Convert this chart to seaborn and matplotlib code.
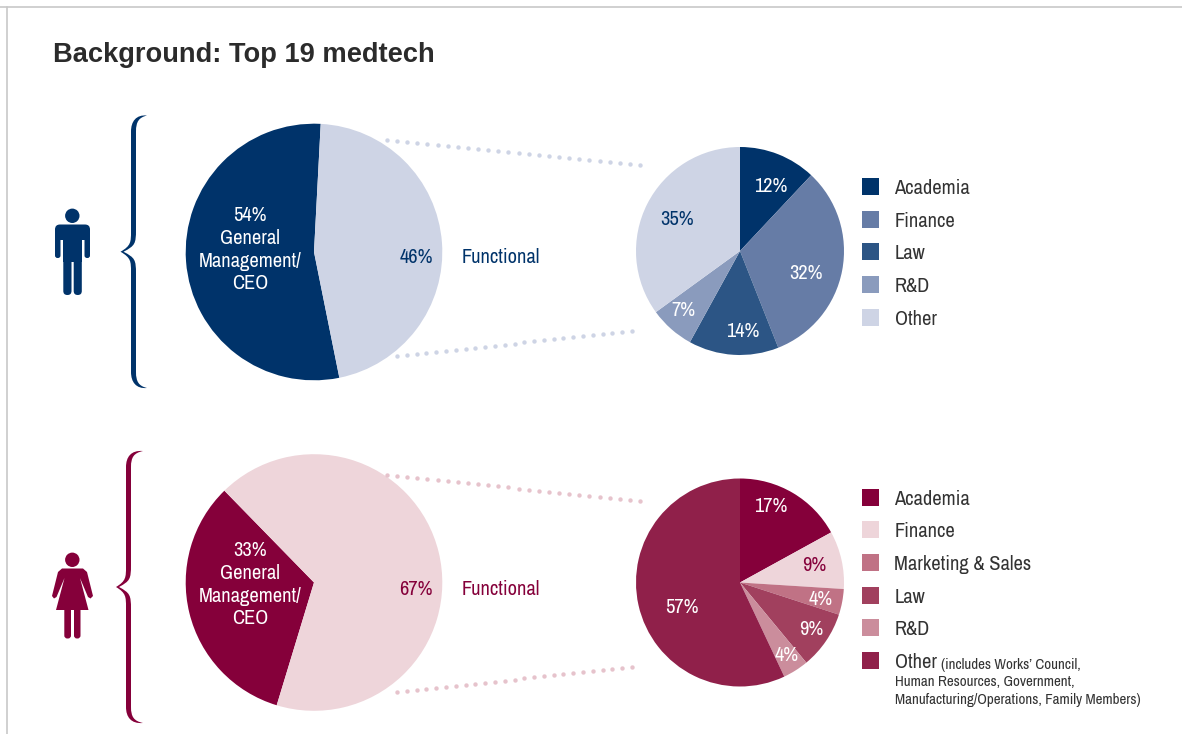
import matplotlib
matplotlib.use("Agg")
import matplotlib.pyplot as plt
from matplotlib.patches import Circle, FancyBboxPatch, PathPatch, Polygon, Rectangle
from matplotlib.path import Path
import numpy as np
import seaborn as sns

W, H = 1182, 734
NAVY = "#00336a"
MAROON = "#85003a"
TEXT = "#333333"

# Overall role split
men_overall = [54, 46]
women_overall = [33, 67]
overall_caption = ["General", "Management/", "CEO"]

# Functional backgrounds
men_categories = ["Academia", "Finance", "Law", "R&D", "Other"]
men_values = [12, 32, 14, 7, 35]
men_colors = ["#00336a", "#667ca6", "#2c5585", "#8a9bbd", "#ced4e5"]
men_label_colors = ["white", "white", "white", "white", NAVY]

women_categories = ["Academia", "Finance", "Marketing & Sales", "Law", "R&D", "Other"]
women_values = [17, 9, 4, 9, 4, 57]
women_colors = ["#85003a", "#eed5da", "#c07285", "#a1405e", "#cb8d9c", "#90204a"]
women_label_colors = ["white", MAROON, "white", "white", "white", "white"]

sns.set_theme(style="white", rc={"figure.dpi": 100, "savefig.dpi": 100})
plt.rcParams["font.family"] = ["Archivo Narrow", "Liberation Sans", "DejaVu Sans"]

fig = plt.figure(figsize=(W / 100, H / 100), facecolor="white")

# Pixel-space layer for annotations, icons and legends
ov = fig.add_axes([0, 0, 1, 1], zorder=3)
ov.set_xlim(0, W)
ov.set_ylim(H, 0)
ov.axis("off")
ov.patch.set_alpha(0)


def draw_pie(cx, cy, r, values, colors, start, ccw):
    ax = fig.add_axes([(cx - r - 2) / W, 1 - (cy + r + 2) / H, (2 * r + 4) / W, (2 * r + 4) / H], zorder=1)
    ax.pie(values, colors=sns.color_palette(colors), startangle=start, counterclock=ccw,
           radius=r, center=(0, 0), wedgeprops={"linewidth": 0})
    ax.set_xlim(-r - 2, r + 2)
    ax.set_ylim(-r - 2, r + 2)
    ax.set_aspect("equal")
    ax.axis("off")


def brace(x, tip_x, top, bottom, end_x, color):
    mid = (top + bottom) / 2
    w = 5
    verts = [
        (end_x, top), (x + 5, top - 1), (x, top + 6), (x, top + 16),
        (x, mid - 20), (x, mid - 10), (x, mid - 6), (tip_x, mid),
        (x, mid + 6), (x, mid + 10), (x, mid + 20),
        (x, bottom - 16), (x, bottom - 6), (x + 5, bottom + 1), (end_x, bottom),
        (x + w + 3, bottom - 2), (x + w, bottom - 6), (x + w, bottom - 16),
        (x + w, mid + 22), (x + w, mid + 8), (x + w - 1, mid + 6), (tip_x + 3, mid),
        (x + w - 1, mid - 6), (x + w, mid - 8), (x + w, mid - 22),
        (x + w, top + 16), (x + w, top + 6), (x + w + 3, top + 2), (end_x, top),
    ]
    codes = [Path.MOVETO, Path.CURVE4, Path.CURVE4, Path.CURVE4,
             Path.LINETO, Path.CURVE4, Path.CURVE4, Path.CURVE4,
             Path.CURVE4, Path.CURVE4, Path.CURVE4,
             Path.LINETO, Path.CURVE4, Path.CURVE4, Path.CURVE4,
             Path.CURVE4, Path.CURVE4, Path.CURVE4,
             Path.LINETO, Path.CURVE4, Path.CURVE4, Path.CURVE4,
             Path.CURVE4, Path.CURVE4, Path.CURVE4,
             Path.LINETO, Path.CURVE4, Path.CURVE4, Path.CURVE4]
    ov.add_patch(PathPatch(Path(verts, codes), fc=color, ec="none"))


def rounded(x0, y0, x1, y1, color, rad=2.5):
    ov.add_patch(FancyBboxPatch((x0 + rad, y0 + rad), x1 - x0 - 2 * rad, y1 - y0 - 2 * rad,
                                boxstyle=f"round,pad={rad},rounding_size={rad}", fc=color, ec="none"))


def male_icon(color):
    ov.add_patch(Circle((72.3, 215.8), 7.2, fc=color, ec="none"))
    rounded(55, 224.5, 90, 240, color, rad=5)
    rounded(55, 228, 60.5, 258, color)
    rounded(84.5, 228, 90, 258, color)
    ov.add_patch(Rectangle((63.3, 226), 18.5, 36, fc=color, ec="none"))
    rounded(63.3, 250, 71.5, 295, color, rad=4)
    rounded(73.7, 250, 81.8, 295, color, rad=4)


def female_icon(color):
    ov.add_patch(Circle((72.3, 559.8), 7.2, fc=color, ec="none"))
    ov.add_patch(Polygon([(62, 568.5), (83, 568.5), (87, 572), (93, 596), (90.5, 598.5), (88, 597),
                          (80, 578), (88.5, 610), (56, 610), (64.5, 578), (56.5, 597), (54, 598.5),
                          (52, 596), (58, 572)], closed=True, fc=color, ec="none", joinstyle="round"))
    rounded(64.3, 605, 71, 638.5, color, rad=3)
    rounded(74, 605, 80.5, 638.5, color, rad=3)


def dotted(x0, y0, x1, y1, color):
    n = int(round(np.hypot(x1 - x0, y1 - y0) / 10.05))
    ov.scatter(np.linspace(x0, x1, n + 1), np.linspace(y0, y1, n + 1), s=10, c=color, linewidths=0, zorder=2)


def put(x, y, s, color, size=14.7, ha="center", **kw):
    ov.text(x, y + 0.8, s, color=color, fontsize=size, ha=ha, va="center", **kw)


def panel(cy, overall, start, icon, color, light, values, colors, label_colors, label_xy,
          categories, legend_ys, cap_y, pct_y):
    draw_pie(314, cy, 128.3, overall, [color, light], start, True)
    draw_pie(740, cy - (1 if cy < 300 else 0), 104, values, colors, 90, False)
    put(250, cap_y, f"{overall[0]}%", "white")
    for i, line in enumerate(overall_caption):
        put(250, cap_y + 23 + i * 22.5, line, "white")
    put(416, pct_y, f"{overall[1]}%", color)
    put(462, pct_y, "Functional", color, ha="left")
    for v, c, (x, y) in zip(values, label_colors, label_xy):
        put(x, y, f"{v}%", c)
    for name, col, y in zip(categories, colors, legend_ys):
        ov.add_patch(Rectangle((862, y - 10), 17, 17, fc=col, ec="none"))
        put(894.5, y, name, TEXT, ha="left")
    icon(color)


# Page frame
ov.plot([0, W], [6.5, 6.5], color="#c8c8c8", lw=1.2)
ov.plot([6.5, 6.5], [6.5, H], color="#c8c8c8", lw=1.2)

ov.text(53, 55.5, "Background: Top 19 medtech", fontsize=19.6, fontweight="bold", color="#2b2b2b",
        family=["Liberation Sans", "DejaVu Sans"], ha="left", va="center")

panel(252, men_overall, 87, male_icon, NAVY, "#ced4e5", men_values, men_colors, men_label_colors,
      [(771, 186), (806, 273), (743, 331), (683, 310), (677, 219)],
      men_categories, [188, 221, 253, 286, 319], 215, 257)
panel(582.5, women_overall, 134.3, female_icon, MAROON, "#eed5da", women_values, women_colors,
      women_label_colors, [(771, 506), (814, 565), (821, 599), (811, 629), (787, 655), (682, 607)],
      women_categories, [499, 531, 564, 597, 629, 662], 550, 589)

# Small print beside the last legend entry
put(941, 664, "(includes Works\u2019 Council,", TEXT, size=10.8, ha="left")
put(895, 681, "Human Resources, Government,", TEXT, size=10.8, ha="left")
put(895, 699, "Manufacturing/Operations, Family Members)", TEXT, size=10.8, ha="left")

brace(131, 120.5, 115.5, 388, 147, NAVY)
brace(126, 116, 451, 723, 143, MAROON)

dotted(387, 140, 640, 165, "#ced4e5")
dotted(397, 356, 632, 331, "#ced4e5")
dotted(387, 475, 640, 501, "#e6c3cc")
dotted(397, 692, 632, 667, "#e6c3cc")

fig.savefig("out.png", dpi=100, facecolor="white")
